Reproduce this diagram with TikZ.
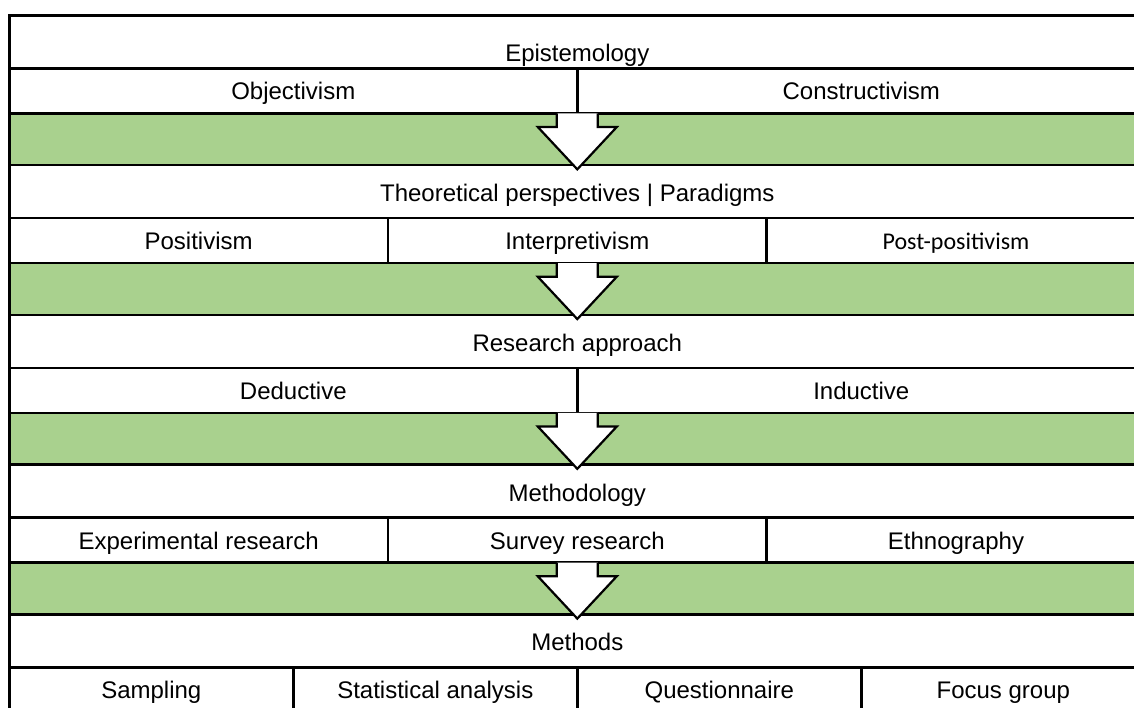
\documentclass[tikz,border=0pt]{standalone}
\usepackage{fontspec}
\setmainfont{Liberation Sans}
\newfontfamily\carlito{Carlito}
\usepackage{tikz}
\usetikzlibrary{calc}
\definecolor{bandgreen}{HTML}{A9D18E}
\tikzstyle{cell}=[draw, line width=2.6pt, fill=white, anchor=north west, inner sep=0pt, text depth=5pt, font=\fontsize{24}{28}\selectfont]
\tikzstyle{head}=[cell, minimum width=1136pt, minimum height=53pt, text height=25pt]
\tikzstyle{sub}=[cell, minimum height=45pt, text height=23pt]
\tikzstyle{half}=[sub, minimum width=568pt]
\tikzstyle{third}=[sub, minimum width=378.67pt]
\tikzstyle{quarter}=[sub, minimum width=284pt]
\tikzstyle{band}=[draw, line width=2.6pt, fill=bandgreen, anchor=north west, inner sep=0pt, minimum width=1136pt, minimum height=51.75pt]
\tikzstyle{blockarrow}=[draw, line width=2.2pt, fill=white, line join=miter]

\begin{document}
\begin{tikzpicture}[x=1pt, y=-1pt]
        \clip (0,0) rectangle (1134,707);
        % green bands between the levels
        \node[band] (g1) at (8,112) {};
        \node[band] (g2) at (8,261.75) {};
        \node[band] (g3) at (8,411.5) {};
        \node[band] (g4) at (8,561.25) {};
        % epistemology
        \node[head, text height=44pt] (epi) at (8,14) {Epistemology};
        \node[half] (obj) at (8,67) {Objectivism};
        \node[half] (con) at (576,67) {Constructivism};
        % theoretical perspectives
        \node[head] (theo) at (8,163.75) {Theoretical perspectives | Paradigms};
        \node[third] (pos) at (8,216.75) {Positivism};
        \node[third] (int) at (386.67,216.75) {Interpretivism};
        \node[third] (post) at (765.33,216.75) {\carlito Post-positivism};
        % research approach
        \node[head] (appr) at (8,313.5) {Research approach};
        \node[half] (ded) at (8,366.5) {Deductive};
        \node[half] (ind) at (576,366.5) {Inductive};
        % methodology
        \node[head] (meth) at (8,463.25) {Methodology};
        \node[third] (exp) at (8,516.25) {Experimental research};
        \node[third] (surv) at (386.67,516.25) {Survey research};
        \node[third] (eth) at (765.33,516.25) {Ethnography};
        % methods
        \node[head] (mtds) at (8,613) {Methods};
        \node[quarter] (samp) at (8,666) {Sampling};
        \node[quarter] (stat) at (292,666) {Statistical analysis};
        \node[quarter] (quest) at (576,666) {Questionnaire};
        \node[quarter] (focus) at (860,666) {Focus group};
        % block arrows
        \draw[blockarrow] ($(g1.north)+(-20.5,1.3)$) -- ++(0,13.7) -- ++(-19,0) -- ($(g1.south)+(0,3)$) -- ($(g1.north)+(39.5,15)$) -- ++(-19,0) -- ($(g1.north)+(20.5,1.3)$);
        \draw[blockarrow] ($(g2.north)+(-20.5,1.3)$) -- ++(0,13.7) -- ++(-19,0) -- ($(g2.south)+(0,3)$) -- ($(g2.north)+(39.5,15)$) -- ++(-19,0) -- ($(g2.north)+(20.5,1.3)$);
        \draw[blockarrow] ($(g3.north)+(-20.5,1.3)$) -- ++(0,13.7) -- ++(-19,0) -- ($(g3.south)+(0,3)$) -- ($(g3.north)+(39.5,15)$) -- ++(-19,0) -- ($(g3.north)+(20.5,1.3)$);
        \draw[blockarrow] ($(g4.north)+(-20.5,1.3)$) -- ++(0,13.7) -- ++(-19,0) -- ($(g4.south)+(0,3)$) -- ($(g4.north)+(39.5,15)$) -- ++(-19,0) -- ($(g4.north)+(20.5,1.3)$);
\end{tikzpicture}
\end{document}
